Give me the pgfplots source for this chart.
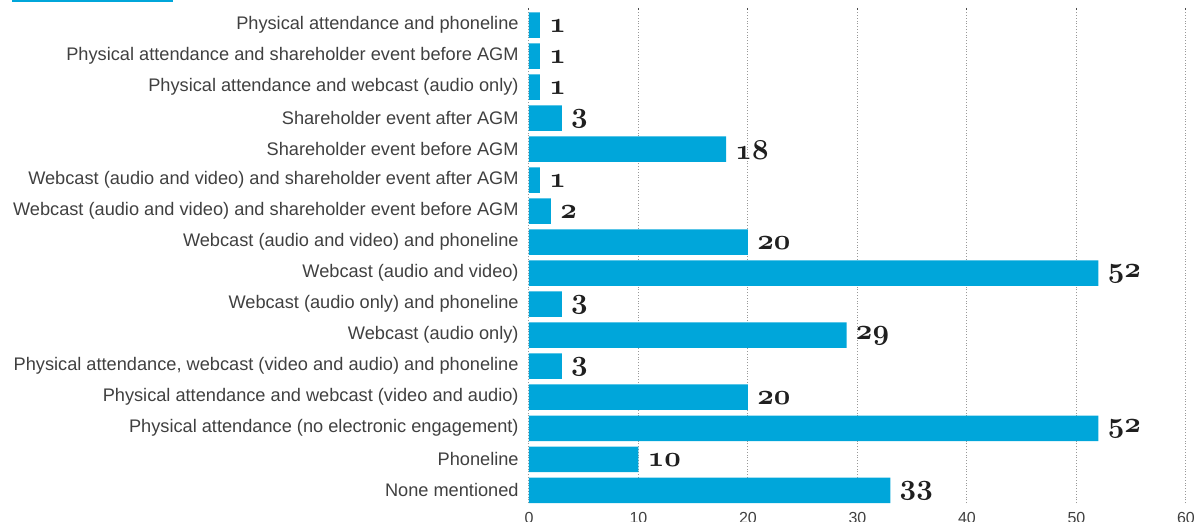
\documentclass[border=0pt]{standalone}
\usepackage{fontspec}
\setmainfont{Liberation Sans}
\usepackage{pgfplots}
\pgfplotsset{compat=1.18}
\definecolor{barblue}{RGB}{0,166,218}
\definecolor{labgray}{RGB}{64,64,64}
\protected\def\vlab#1{{\boldmath$\mathnormal{#1}$}}
\begin{document}
\begin{tikzpicture}
\begin{axis}[
  name=ax,
  scale only axis,
  width=328.5pt, height=247.5pt,
  xbar, bar width=12.75pt,
  xmin=0, xmax=60, ymin=-0.41, ymax=15.55,
  xtick={0,10,...,60},
  ytick={0,...,15},
  yticklabels={None mentioned, Phoneline, Physical attendance (no electronic engagement), Physical attendance and webcast (video and audio), {Physical attendance, webcast (video and audio) and phoneline}, Webcast (audio only), Webcast (audio only) and phoneline, Webcast (audio and video), Webcast (audio and video) and phoneline, Webcast (audio and video) and shareholder event before AGM, Webcast (audio and video) and shareholder event after AGM, Shareholder event before AGM, Shareholder event after AGM, Physical attendance and webcast (audio only), Physical attendance and shareholder event before AGM, Physical attendance and phoneline},
  axis line style={draw=none},
  xmajorgrids,
  major grid style={densely dotted, gray!80, line width=0.5pt},
  xtick pos=right, xticklabel pos=left,
  major tick length=1pt,
  xtick style={black!70, line width=0.5pt},
  ytick style={draw=none},
  /pgf/number format/assume math mode=true,
  xticklabel style={font=\fontsize{8}{9}\selectfont, text=labgray, inner sep=0pt, yshift=-4.25pt, anchor=north},
  yticklabel style={font=\fontsize{9.1}{10}\selectfont, text=labgray, inner sep=0pt, xshift=-4pt, anchor=east},
  point meta=explicit symbolic,
  nodes near coords={\vlab{\pgfplotspointmeta}},
  every node near coord/.append style={anchor=west, inner sep=0pt, xshift=4.5pt, yshift=-0.5pt, font=\fontsize{13.5}{15}\selectfont, text=black!88},
]
\addplot[fill=barblue, draw=none] coordinates {
  (33,0) [33]
  (10,1) [10]
  (52,2) [52]
  (20,3) [20]
  (3,4) [3]
  (29,5) [29]
  (3,6) [3]
  (52,7) [52]
  (20,8) [20]
  (2,9) [2]
  (1,10) [1]
  (18,11) [18]
  (3,12) [3]
  (1,13) [1]
  (1,14) [1]
  (1,15) [1]
};
\end{axis}
\fill[barblue] ([shift={(-258.5pt,3pt)}]ax.north west) rectangle ([shift={(-178pt,5pt)}]ax.north west);
\pgfresetboundingbox
\path ([shift={(-264.5pt,-9pt)}]ax.south west) rectangle ([shift={(5pt,4pt)}]ax.north east);
\end{tikzpicture}
\end{document}
